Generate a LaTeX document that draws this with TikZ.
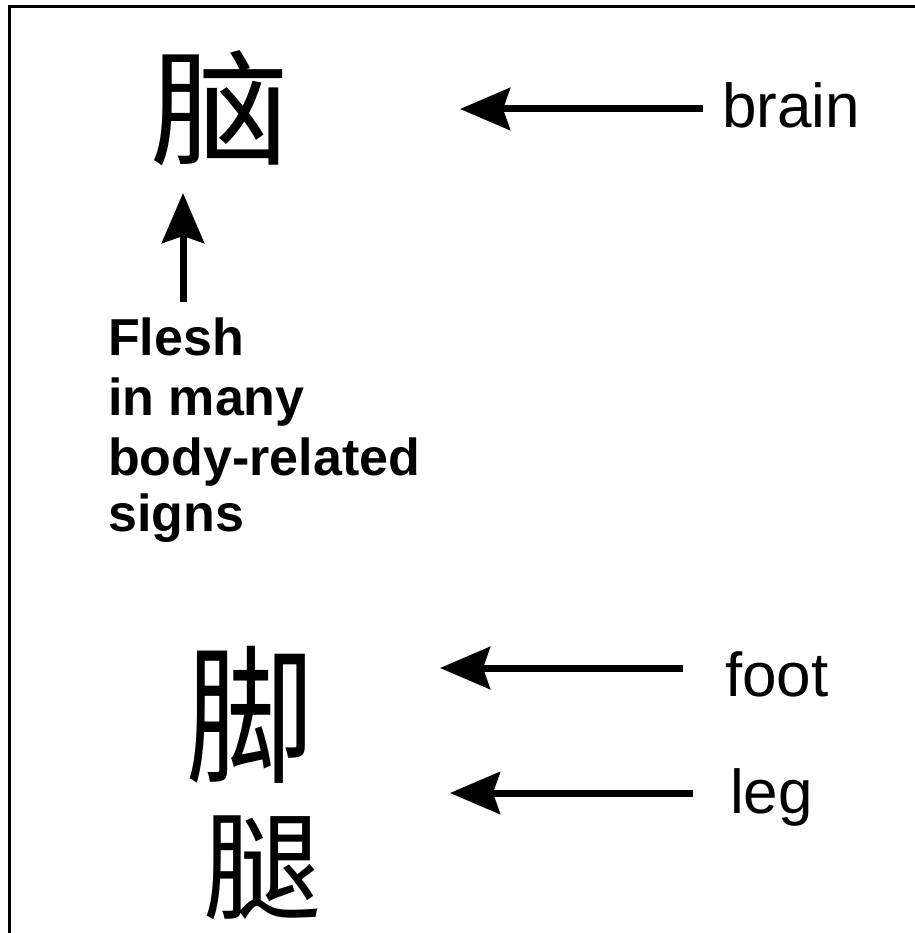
\documentclass[tikz,border=0pt]{standalone}
\usepackage{fontspec}
\setmainfont{Liberation Sans}
\newfontfamily\cjk{Noto Sans CJK SC}
\usetikzlibrary{arrows.meta}
\begin{document}
\begin{tikzpicture}[x=1pt,y=-1pt,
  frame/.style={line width=3pt,line cap=rect},
  bigarrow/.style={line width=7pt,-{Stealth[length=50pt,width=42pt,inset=7pt]}},
  label/.style={inner sep=0pt,anchor=base west,font=\fontsize{62}{70}\selectfont},
  flesh/.style={inner sep=0pt,anchor=base west,font=\fontsize{52}{59}\selectfont\bfseries},
  hand/.style={inner sep=0pt,anchor=center}]
\useasboundingbox (0,0) rectangle (914,933);
\fill[white] (0,0) rectangle (914,933);
% frame
\coordinate (fb) at (9,945);
\coordinate (ftl) at (9,7);
\coordinate (fr) at (925,7);
\draw[frame] (fb) -- (ftl) -- (fr);
% handwritten-like characters
\node[hand,font=\cjk\fontsize{125}{125}\selectfont,xscale=1.12] (nao) at (220,108) {脑};
\node[hand,font=\cjk\fontsize{150}{150}\selectfont,xscale=0.85] (jiao) at (250,715) {脚};
\node[hand,font=\cjk\fontsize{118}{118}\selectfont] (tui) at (262,868) {腿};
% labels
\node[label] (brain) at (722,128) {brain};
\node[label] (foot) at (725,696) {foot};
\node[label] (leg) at (730,813) {leg};
\node[flesh] (l1) at (108,355) {Flesh};
\node[flesh] (l2) at (108,415) {in many};
\node[flesh] (l3) at (108,475) {body-related};
\node[flesh] (l4) at (108,531) {signs};
% arrows
\coordinate (bs) at (703,109);
\coordinate (be) at (460,109);
\coordinate (fs) at (683,668);
\coordinate (fe) at (440,668);
\coordinate (gs) at (693,793);
\coordinate (ge) at (450,793);
\coordinate (us) at (183,302);
\coordinate (ue) at (183,193);
\draw[bigarrow] (bs) -- (be);
\draw[bigarrow] (fs) -- (fe);
\draw[bigarrow] (gs) -- (ge);
\draw[bigarrow] (us) -- (ue);
\end{tikzpicture}
\end{document}
